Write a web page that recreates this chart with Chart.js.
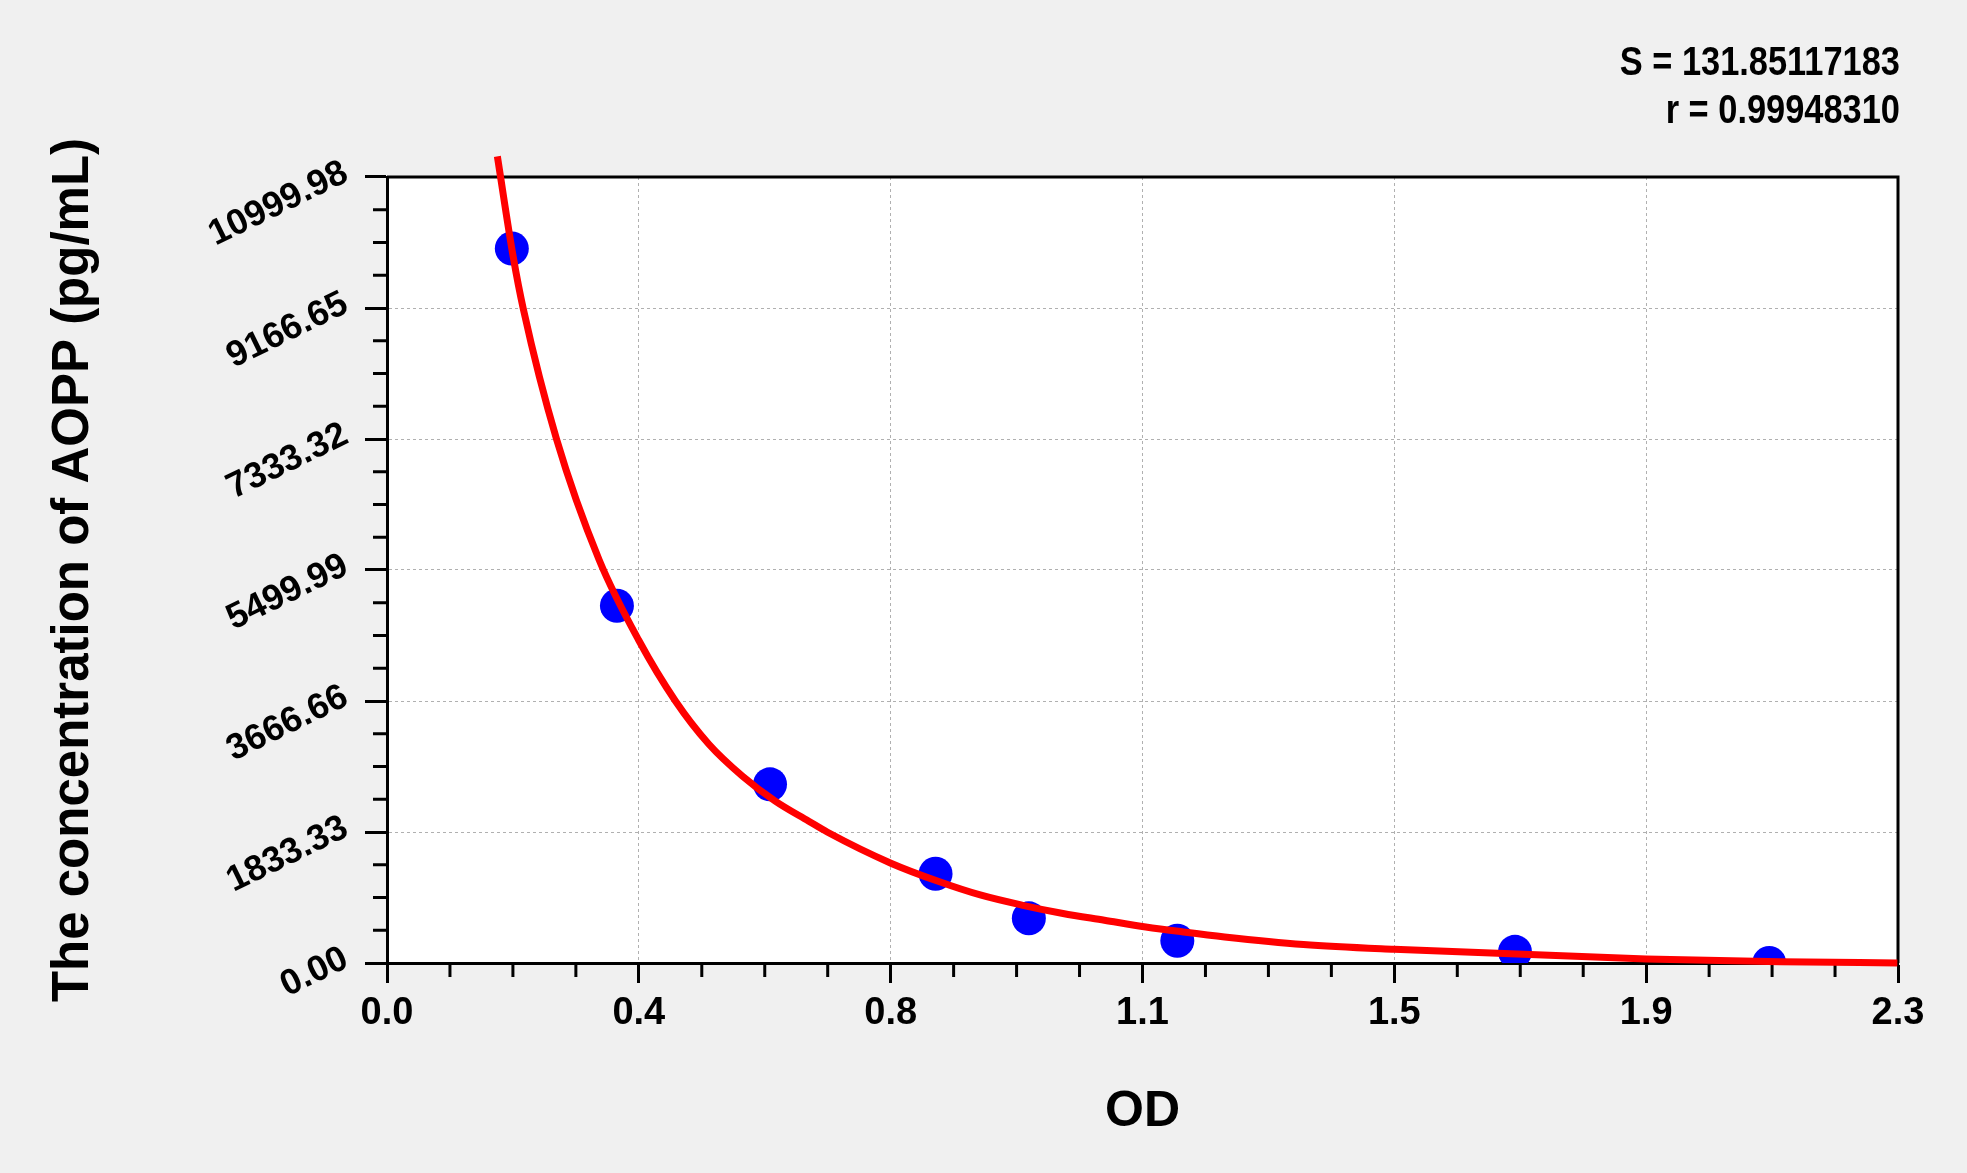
<!DOCTYPE html>
<html>
<head>
<meta charset="utf-8">
<title>AOPP standard curve</title>
<script src="https://cdn.jsdelivr.net/npm/chart.js@4.4.0/dist/chart.umd.min.js"></script>
<style>
  html, body { margin: 0; padding: 0; background: #f0f0f0; }
  #wrap { width: 1967px; height: 1173px; }
</style>
</head>
<body>
<div id="wrap"><canvas id="curveChart" width="1967" height="1173"></canvas></div>
<script>
// standards: OD against concentration
const odValues = [0.190, 0.350, 0.583, 0.835, 0.977, 1.203, 1.717, 2.104];
const concValues = [10000, 5000, 2500, 1250, 625, 312.5, 156.25, 0];

// fitted curve
const fitOd = [0.168, 0.192, 0.2075, 0.258, 0.323, 0.383, 0.439, 0.490, 0.541, 0.591,
  0.642, 0.670, 0.767, 0.840, 0.903, 0.966, 1.029, 1.092, 1.155, 1.212, 1.275, 1.395,
  1.533, 1.917, 2.121, 2.299];
const fitConc = [11288, 9888, 9152, 7333, 5640, 4520, 3667, 3062, 2616, 2265,
  1984, 1833, 1397, 1140, 952, 811, 693, 599, 505, 435, 365, 260,
  192, 56, 18, 0];

const xTickLabels = ['0.0', '0.4', '0.8', '1.1', '1.5', '1.9', '2.3'];
const yTickLabels = ['0.00', '1833.33', '3666.66', '5499.99', '7333.32', '9166.65', '10999.98'];
const xMax = 2.3;
const yMax = 10999.98;
const fitStats = ['S = 131.85117183', 'r = 0.99948310'];

const FONT = '"Liberation Sans", Arial, sans-serif';

const standards = odValues.map((v, i) => ({ x: v, y: concValues[i] }));
const fitLine = fitOd.map((v, i) => ({ x: v, y: fitConc[i] }));

function gridColor(ctx) {
  const n = ctx.chart.scales[ctx.scale.id].ticks.length;
  return (ctx.index === 0 || ctx.index === n - 1) ? 'rgba(0,0,0,0)' : '#b0b0b0';
}

const frameAndMinorTicks = {
  id: 'frameAndMinorTicks',
  beforeDraw(chart) {
    const { ctx, chartArea: a } = chart;
    ctx.save();
    ctx.fillStyle = '#f0f0f0';
    ctx.fillRect(0, 0, chart.width, chart.height);
    ctx.fillStyle = '#ffffff';
    ctx.fillRect(a.left, a.top, a.right - a.left, a.bottom - a.top);
    ctx.restore();
  },
  beforeDatasetsDraw(chart) {
    const { ctx, chartArea: a, scales: { x, y } } = chart;
    ctx.save();
    ctx.strokeStyle = '#000';
    ctx.lineWidth = 3;
    ctx.beginPath();
    ctx.moveTo(a.left, a.top);
    ctx.lineTo(a.right, a.top);
    ctx.lineTo(a.right, a.bottom);
    // minor ticks, three between each pair of labels
    for (let i = 1; i < 24; i++) {
      if (i % 4 === 0) continue;
      const px = x.getPixelForValue(i * xMax / 24);
      ctx.moveTo(px, a.bottom);
      ctx.lineTo(px, a.bottom + 14);
      const py = y.getPixelForValue(i * yMax / 24);
      ctx.moveTo(a.left - 14, py);
      ctx.lineTo(a.left, py);
    }
    ctx.stroke();
    ctx.restore();
  },
  afterDraw(chart) {
    const { ctx, chartArea: a } = chart;
    ctx.save();
    ctx.fillStyle = '#000';
    ctx.font = 'bold 40px ' + FONT;
    ctx.textAlign = 'right';
    ctx.textBaseline = 'middle';
    ctx.translate(a.right + 2, 0);
    ctx.scale(0.86, 1);
    ctx.fillText(fitStats[0], 0, 64);
    ctx.fillText(fitStats[1], 0, 112);
    ctx.restore();
  }
};

new Chart(document.getElementById('curveChart'), {
  type: 'scatter',
  data: {
    datasets: [
      {
        type: 'line',
        data: fitLine,
        borderColor: '#ff0000',
        borderWidth: 7,
        pointRadius: 0,
        cubicInterpolationMode: 'monotone',
        clip: false,
        order: 1
      },
      {
        data: standards,
        backgroundColor: '#0000ff',
        borderWidth: 0,
        pointRadius: 17,
        pointHoverRadius: 17,
        order: 2
      }
    ]
  },
  options: {
    responsive: false,
    animation: false,
    layout: { padding: { left: 0, top: 177, right: 69, bottom: 0 } },
    plugins: { legend: { display: false }, tooltip: { enabled: false } },
    scales: {
      x: {
        type: 'linear',
        min: 0,
        max: xMax,
        afterBuildTicks(scale) {
          scale.ticks = xTickLabels.map((_, i) => ({ value: i * xMax / 6 }));
        },
        afterFit(scale) { scale.height = 210; },
        ticks: {
          autoSkip: false, minRotation: 0, maxRotation: 0, padding: 8,
          color: '#000', font: { family: FONT, size: 38, weight: 'bold' },
          callback: (v, i) => xTickLabels[i]
        },
        grid: { color: gridColor, lineWidth: 1, tickLength: 20, tickColor: '#000', tickWidth: 3 },
        border: { display: true, color: '#000', width: 3, dash: [3, 3] },
        title: {
          display: true, text: 'OD', color: '#000',
          font: { family: FONT, size: 50, weight: 'bold', lineHeight: 1.2 },
          padding: { top: 0, bottom: 31 }
        }
      },
      y: {
        type: 'linear',
        min: 0,
        max: yMax,
        afterBuildTicks(scale) {
          scale.ticks = yTickLabels.map((_, i) => ({ value: i * yMax / 6 }));
        },
        afterFit(scale) { scale.width = 387; },
        ticks: {
          autoSkip: false, minRotation: 26, maxRotation: 26, padding: 19, labelOffset: -6,
          color: '#000', font: { family: FONT, size: 36, weight: 'bold' },
          callback: (v, i) => yTickLabels[i]
        },
        grid: { color: gridColor, lineWidth: 1, tickLength: 22, tickColor: '#000', tickWidth: 3 },
        border: { display: true, color: '#000', width: 3, dash: [3, 3] },
        title: {
          display: true, text: 'The concentration of AOPP (pg/mL)', color: '#000',
          font: { family: FONT, size: 51, weight: 'bold', lineHeight: 1.2 },
          padding: { top: 43, bottom: 0 }
        }
      }
    }
  },
  plugins: [frameAndMinorTicks]
});
</script>
</body>
</html>
